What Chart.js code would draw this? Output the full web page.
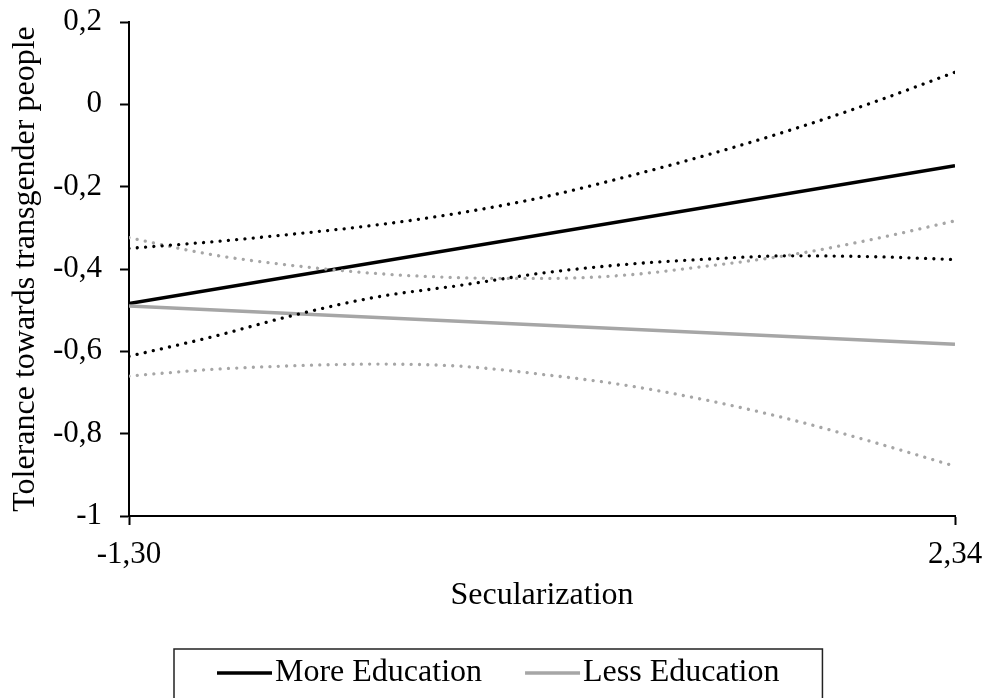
<!DOCTYPE html>
<html>
<head>
<meta charset="utf-8">
<script src="https://cdn.jsdelivr.net/npm/chart.js@4/dist/chart.umd.min.js"></script>
<style>
  html, body { margin: 0; padding: 0; background: #fff; }
  #wrap { width: 988px; height: 698px; }
</style>
</head>
<body>
<div id="wrap"><canvas id="c" width="988" height="698"></canvas></div>
<script>
// Secularization values at which the predictions are evaluated
const secularization = [-1.30, -0.936, -0.572, -0.208, 0.156, 0.52, 0.884, 1.248, 1.612, 1.976, 2.34];

// Predicted tolerance (straight lines between the two ends)
const endPoints = [-1.30, 2.34];
const moreEducation = [-0.484, -0.149];
const lessEducation = [-0.490, -0.583];

// Confidence bounds
const moreUpper = [-0.350, -0.334, -0.315, -0.293, -0.264, -0.226, -0.177, -0.123, -0.063, 0.004, 0.078];
const moreLower = [-0.612, -0.565, -0.512, -0.468, -0.440, -0.410, -0.389, -0.376, -0.368, -0.370, -0.377];
const lessUpper = [-0.324, -0.365, -0.392, -0.411, -0.421, -0.423, -0.415, -0.393, -0.366, -0.328, -0.283];
const lessLower = [-0.660, -0.644, -0.635, -0.631, -0.636, -0.656, -0.682, -0.719, -0.765, -0.820, -0.879];

// Axis ticks
const xTickValues = [-1.30, 2.34];
const xTickLabels = ['-1,30', '2,34'];

// Legend entries, in display order
const legendLabels = ['More Education', 'Less Education'];

const FONT = '"Liberation Serif", "Times New Roman", serif';
const BLACK = '#000000';
const GREY = '#a6a6a6';

const toPoints = (xs, ys) => xs.map((x, i) => ({ x: x, y: ys[i] }));

const solid = (label, xs, ys, color) => ({
  label, data: toPoints(xs, ys), borderColor: color, backgroundColor: color,
  borderWidth: 3.5, pointRadius: 0, tension: 0
});
const dotted = (label, xs, ys, color) => ({
  label, data: toPoints(xs, ys), borderColor: color, backgroundColor: color,
  borderWidth: 3.3, borderDash: [0.01, 8.3], borderCapStyle: 'round',
  pointRadius: 0, cubicInterpolationMode: 'monotone'
});

// Boxed legend drawn under the axis title
const boxedLegend = {
  id: 'boxedLegend',
  afterDraw(chart) {
    const ctx = chart.ctx;
    const items = legendLabels.map(l => chart.data.datasets.find(d => d.label === l));
    const lineLen = 55, textGap = 3, itemGap = 43, side = 43;
    const top = 649, midY = 673, startX = 217;
    ctx.save();
    ctx.font = '32px ' + FONT;
    const widths = items.map(d => ctx.measureText(d.label).width);
    let total = 0;
    widths.forEach((w, i) => { total += lineLen + textGap + w + (i < items.length - 1 ? itemGap : 0); });
    ctx.strokeStyle = '#222';
    ctx.lineWidth = 1.5;
    ctx.strokeRect(startX - side, top, total + side * 2, 80);
    let x = startX;
    items.forEach((d, i) => {
      ctx.strokeStyle = d.borderColor;
      ctx.lineWidth = 3.5;
      ctx.beginPath();
      ctx.moveTo(x, midY);
      ctx.lineTo(x + lineLen, midY);
      ctx.stroke();
      ctx.fillStyle = BLACK;
      ctx.textBaseline = 'middle';
      ctx.textAlign = 'left';
      ctx.fillText(d.label, x + lineLen + textGap, midY);
      x += lineLen + textGap + widths[i] + itemGap;
    });
    ctx.restore();
  }
};

new Chart(document.getElementById('c'), {
  type: 'line',
  data: {
    datasets: [
      dotted('More Education upper', secularization, moreUpper, BLACK),
      dotted('More Education lower', secularization, moreLower, BLACK),
      dotted('Less Education upper', secularization, lessUpper, GREY),
      dotted('Less Education lower', secularization, lessLower, GREY),
      solid('Less Education', endPoints, lessEducation, GREY),
      solid('More Education', endPoints, moreEducation, BLACK)
    ]
  },
  options: {
    responsive: false,
    animation: false,
    devicePixelRatio: 1,
    layout: { padding: { top: 22, right: 33, bottom: 72, left: 0 } },
    plugins: { legend: { display: false }, tooltip: { enabled: false } },
    scales: {
      x: {
        type: 'linear',
        min: -1.30,
        max: 2.34,
        afterBuildTicks: (scale) => { scale.ticks = xTickValues.map(v => ({ value: v })); },
        afterFit: (scale) => { scale.height = 110; scale.paddingLeft = 0; scale.paddingRight = 0; },
        ticks: {
          color: BLACK,
          font: { family: FONT, size: 31 },
          padding: 11,
          maxRotation: 0,
          autoSkip: false,
          callback: (v) => xTickLabels[xTickValues.indexOf(v)] ?? ''
        },
        grid: { drawOnChartArea: false, drawTicks: true, tickLength: 9, tickColor: BLACK, tickWidth: 2 },
        border: { color: BLACK, width: 2 },
        title: {
          display: true, text: 'Secularization', color: BLACK,
          font: { family: FONT, size: 32 }, padding: { top: 0, bottom: 11 }
        }
      },
      y: {
        min: -1,
        max: 0.2,
        afterFit: (scale) => { scale.width = 129; scale.paddingTop = 0; scale.paddingBottom = 0; },
        ticks: {
          stepSize: 0.2,
          color: BLACK,
          font: { family: FONT, size: 31 },
          padding: 18,
          callback: (v) => String(Number(v.toFixed(1))).replace('.', ',')
        },
        grid: { drawOnChartArea: false, drawTicks: true, tickLength: 9, tickColor: BLACK, tickWidth: 2 },
        border: { color: BLACK, width: 2 },
        title: {
          display: true, text: 'Tolerance towards transgender people', color: BLACK,
          font: { family: FONT, size: 32 }, padding: { top: 6, bottom: 0 }
        }
      }
    }
  },
  plugins: [boxedLegend]
});
</script>
</body>
</html>
